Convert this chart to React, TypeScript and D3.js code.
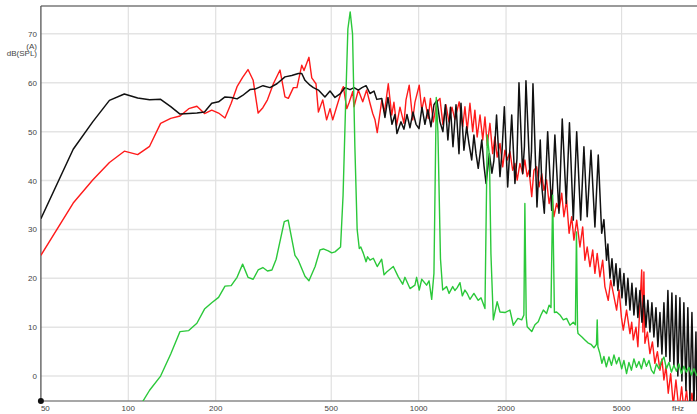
import React from "react";
import * as d3 from "d3";

// Third-octave-free FFT magnitude curves, [frequency Hz, level dB(SPL)(A)]
const blackCurve: [number, number][] = [
  [50, 32.2], [64.6, 46.4], [75.4, 52.0], [86.1, 56.4], [96.9, 57.7], [107.7, 56.9], [118.4, 56.5], [129.2, 56.6],
  [140, 55.1], [150.7, 53.6], [161.5, 53.7], [172.3, 53.8], [183, 54.0], [193.8, 55.8], [204.6, 56.1], [215.3, 57.1],
  [226.1, 57.0], [236.9, 56.7], [247.6, 57.4], [262.5, 58.6], [273, 58.7], [291, 59.4], [307.6, 59.0], [325, 59.8],
  [346.4, 61.2], [365.5, 61.5], [385, 61.9], [395.8, 61.9], [406, 60.5], [422.5, 59.5], [434, 59.0], [451.6, 58.5],
  [475.6, 57.1], [495.2, 58.3], [515, 57.0], [536, 57.7], [557.4, 59.0], [580.3, 58.6], [598.9, 59.0], [619.8, 58.5],
  [638, 59.0], [659, 59.4], [679.9, 57.8], [701.7, 58.3], [717.3, 56.6], [746.4, 56.8], [765.5, 52.9], [784, 57.0],
  [809.5, 51.5], [828.6, 53.5], [842, 49.6], [869.3, 52.0], [890, 50.5], [911.6, 53.5], [933.7, 50.8], [956, 54.0],
  [979.4, 51.5], [1002.8, 50.6], [1026.8, 55.0], [1051, 51.5], [1076, 54.5], [1102.8, 51.0], [1129, 55.5], [1156, 56.4],
  [1184, 52.0], [1212, 50.0], [1236, 55.5], [1261, 48.3], [1287, 55.0], [1313, 46.9], [1345, 55.5], [1377, 45.5],
  [1399, 55.8], [1432, 46.2], [1463, 51.0], [1491, 47.5], [1523, 44.2], [1550, 49.3], [1576, 45.5], [1604, 42.5],
  [1650, 48.3], [1679, 43.0], [1707, 39.4], [1752, 45.5], [1788, 41.5], [1816, 44.0], [1855, 53.4], [1906, 40.8],
  [1937, 46.0], [1973, 55.1], [2026, 38.7], [2055, 45.0], [2092, 53.4], [2146, 39.4], [2181, 44.5], [2216, 60.0],
  [2282, 41.4], [2314, 47.0], [2342, 60.4], [2418, 40.8], [2447, 46.0], [2476, 59.8], [2556, 34.6], [2623, 48.3],
  [2659, 38.5], [2709, 33.3], [2782, 50.0], [2872, 33.9], [2946, 49.3], [3043, 33.3], [3123, 52.6], [3224, 35.3],
  [3307, 51.8], [3409, 31.9], [3502, 50.0], [3615, 31.9], [3709, 46.9], [3806, 32.6], [3922, 46.2], [4047, 30.5],
  [4155, 45.2], [4270, 29.2], [4346, 32], [4438, 23.7], [4485, 27], [4560, 20], [4633, 24], [4706, 18.5],
  [4783, 23], [4856, 17.5], [4935, 22], [5014, 16], [5093, 21], [5177, 14.5], [5256, 20], [5343, 13.5],
  [5428, 19], [5514, 12.5], [5605, 18], [5690, 12], [5783, 17.5], [5876, 11], [5968, 16.5], [6066, 10],
  [6159, 15.5], [6260, 9], [6360, 15], [6460, 8], [6567, 14], [6667, 6], [6778, 13], [6886, 4.5],
  [6995, 15], [7110, 4], [7219, 17.5], [7335, 3], [7452, 17], [7570, 2], [7694, 16.5], [7812, 0],
  [7940, 16], [8067, -1], [8194, 15], [8329, -3], [8456, 14], [8597, -5], [8735, 13], [8872, -6],
  [9018, 9], [9093, -6],
];

const redCurve: [number, number][] = [
  [50, 24.7], [64.6, 35.4], [75.4, 40.1], [86.1, 43.7], [96.9, 46.0], [107.7, 45.3], [118.4, 47.0], [129.2, 51.7],
  [140, 52.7], [150.7, 53.2], [161.5, 54.7], [172.3, 55.2], [183, 53.7], [193.8, 54.4], [204.6, 53.8], [215.3, 52.8],
  [226.1, 55.8], [236.9, 59.2], [247.6, 61.1], [258.4, 62.7], [269.2, 60.5], [280, 53.8], [290.7, 54.9], [301.5, 56.5],
  [316, 59.8], [333.1, 62.6], [346.4, 57.1], [355.8, 56.8], [370.3, 59.0], [381, 59.0], [395.8, 63.6], [402.8, 62.5],
  [419, 65.2], [428.4, 61.0], [443, 59.8], [451.6, 54.0], [467.4, 56.5], [482, 52.4], [495.2, 54.7], [506, 52.4],
  [522, 55.1], [543.5, 58.5], [550.5, 59.2], [565.5, 54.7], [576.7, 56.0], [593, 58.2], [598.9, 55.1], [619.8, 58.5],
  [641.9, 56.1], [662, 58.5], [679.9, 55.8], [694.8, 53.7], [707, 52.5], [720, 49.8], [746.4, 56.4], [762.6, 54.0],
  [786, 59.8], [807.8, 53.4], [822, 56.0], [839.7, 51.3], [862.4, 55.0], [890, 51.7], [904.6, 56.5], [928, 59.5],
  [954.2, 52.4], [971, 56.0], [1004.7, 59.5], [1024.7, 54.4], [1047, 57.0], [1079, 52.7], [1098, 56.8], [1123.5, 52.0],
  [1154, 56.0], [1184, 56.8], [1212, 51.5], [1242, 55.5], [1271.6, 52.0], [1302.5, 55.0], [1333, 52.5], [1379, 56.1],
  [1418.5, 51.0], [1443.5, 55.1], [1470, 50.3], [1502, 55.8], [1535, 50.0], [1562, 54.4], [1590.6, 48.9], [1627, 53.4],
  [1662.8, 48.3], [1692, 53.0], [1723, 47.2], [1760, 51.7], [1798.7, 45.5], [1830, 48.9], [1864, 44.8], [1906, 47.6],
  [1948, 42.8], [1982, 46.2], [2018.5, 44.2], [2063, 45.9], [2108, 42.1], [2146, 43.5], [2185, 40.1], [2233, 43.5],
  [2282, 41.4], [2322, 44.2], [2365, 40.8], [2400, 42.1], [2452, 36.7], [2495, 42.1], [2549, 42.8], [2600, 38.7],
  [2654, 41.4], [2701, 38.0], [2758, 40.1], [2814, 35.3], [2872, 38.0], [2924, 32.6], [2986, 35.3], [3045, 33.9],
  [3110, 37.4], [3165, 32.6], [3233, 36.0], [3297, 29.2], [3366, 32.6], [3426, 27.8], [3502, 31.9], [3594, 26.4],
  [3673, 30.5], [3738, 23.7], [3806, 26.4], [3891, 22.4], [3977, 25.8], [4047, 21.0], [4121, 25.1], [4211, 20.3],
  [4304, 23.7], [4380, 18.3], [4497, 15.5], [4587, 19.6], [4683, 16.9], [4806, 13.5], [4902, 17.6], [4994, 12],
  [5068, 9.4], [5201, 13.5], [5343, 8.7], [5418, 11], [5487, 7.4], [5605, 10], [5690, 6], [5864, 21.7],
  [5922, 9], [5968, 21.3], [6014, 6.7], [6136, 9], [6260, 4.6], [6385, 7], [6510, 2.6], [6642, 5],
  [6778, 1.2], [6886, 3.5], [6995, -0.8], [7110, 2], [7239, -3.5], [7379, 0.5], [7533, -6], [7694, -0.8],
  [7878, -7], [8051, -2.2], [8194, -7], [8369, -2.9], [8527, -8], [8735, -3.5], [8941, -8], [9093, -4],
];

const greenCurve: [number, number][] = [
  [107.7, -6.9], [118.4, -2.9], [129.2, 0.0], [140, 4.5], [150.7, 9.1], [161.5, 9.3], [172.3, 10.8], [183, 13.7],
  [193.8, 15.0], [204.6, 16.1], [215.3, 18.4], [226.1, 18.5], [236.9, 20.2], [247.6, 22.9], [258.4, 20.2], [269.2, 19.8],
  [280, 21.7], [290.7, 22.2], [301.5, 21.5], [312.3, 21.7], [323, 23.9], [344.5, 31.6], [355.3, 31.9], [375, 24.7],
  [385, 23.7], [406, 20.4], [419, 19.5], [440, 22.4], [457.3, 25.8], [469.6, 26.0], [488.4, 25.6], [502, 25.2],
  [515, 25.4], [538.3, 26.4], [549.2, 37], [560, 55], [570.5, 71], [581, 74.5], [592, 70], [603, 47],
  [614, 30], [624.5, 26.1], [632, 26.4], [645, 25.1], [659, 23.4], [667, 24.4], [680, 23.7], [698, 24.1],
  [720, 22.4], [746, 23.9], [760, 20.7], [776, 21.3], [818, 22.4], [851, 20.3], [881, 18.8], [897, 20.2],
  [933.7, 17.9], [971, 18.6], [984, 20.2], [1004.7, 17.6], [1024.7, 19.8], [1065, 18.6], [1086, 19.5], [1109, 15.7],
  [1129, 21], [1150, 57], [1165, 50], [1189, 24], [1210, 17.6], [1248, 18.3], [1273, 16.9], [1310, 18.3],
  [1333, 17.5], [1358, 18.1], [1388, 19.1], [1414, 16.4], [1443.5, 17.6], [1473, 16.8], [1502, 15.7], [1550, 16.9],
  [1604, 15.5], [1640, 16], [1692, 13.8], [1723, 49.3], [1753, 45], [1774, 25], [1808, 11.5], [1864, 15.2],
  [1906, 13.1], [1982, 13.0], [2063, 13.5], [2119, 10.4], [2197, 11.8], [2264, 11.5], [2304, 12.5], [2322, 35.3],
  [2347, 12], [2365, 10.1], [2452, 9.1], [2515, 10.5], [2582, 11.1], [2638, 12.5], [2688, 13.5], [2758, 12.8],
  [2814, 14.5], [2856, 14], [2895, 37.0], [2935, 13], [2986, 13.1], [3067, 12.5], [3150, 11.5], [3233, 11.8],
  [3320, 10.4], [3409, 11], [3466, 10.5], [3496, 29.5], [3526, 9.5], [3540, 8.7], [3651, 8], [3738, 7.4],
  [3828, 6.8], [3922, 6.5], [4016, 5.8], [4097, 6.5], [4121, 11.5], [4144, 6], [4211, 4.6], [4278, 2.6],
  [4346, 4.0], [4430, 1.9], [4523, 3.9], [4615, 2.2], [4706, 4.3], [4802, 2.5], [4897, 3.8], [5004, 1.5],
  [5093, 3.2], [5201, 0.5], [5300, 2.8], [5407, 1.2], [5514, 3.5], [5626, 1.8], [5738, 3.0], [5852, 1.5],
  [5968, 3.6], [6089, 2.0], [6211, 3.2], [6335, 1.2], [6460, 0.5], [6592, 2.5], [6723, 1.5], [6859, 3.0],
  [6995, 3.9], [7137, 1.5], [7280, 2.8], [7423, 0.8], [7570, 2.2], [7724, 1.0], [7878, 2.5], [8035, 0.5],
  [8194, 2.0], [8361, 0.8], [8527, 1.8], [8700, 0.2], [8872, 1.5], [9093, 0.0],
];

const yTicks = [0, 10, 20, 30, 40, 50, 60, 70];
const xGridTicks = [100, 200, 500, 1000, 2000, 5000];
const xLabelTicks = [50, 100, 200, 500, 1000, 2000, 5000];
const yUnitLines = ["(A)", "dB(SPL)"];
const xUnit = "fHz";

const W = 697;
const H = 414;
const plot = { left: 40.9, right: 697, top: 6, bottom: 401 };

export default function App() {
  const x = d3.scaleLog().domain([50, 9093]).range([plot.left, plot.right]);
  const y = d3.scaleLinear().domain([-5.1, 75.7]).range([plot.bottom, plot.top]);
  const line = d3
    .line<[number, number]>()
    .x((d) => x(d[0]))
    .y((d) => y(d[1]));

  const font = "'Liberation Sans', Arial, sans-serif";

  return (
    <svg
      width={W}
      height={H}
      style={{ position: "absolute", left: 0, top: 0, background: "#fff" }}
      fontFamily={font}
    >
      <defs>
        <clipPath id="plotClip">
          <rect x={plot.left} y={plot.top} width={plot.right - plot.left} height={plot.bottom - plot.top} />
        </clipPath>
      </defs>
      <rect x={0} y={0} width={W} height={H} fill="#fff" />

      {/* grid */}
      {yTicks.map((t) => (
        <line key={"gy" + t} x1={plot.left} x2={plot.right} y1={y(t)} y2={y(t)} stroke="#e4e4e4" strokeWidth={1.5} />
      ))}
      {xGridTicks.map((t) => (
        <line key={"gx" + t} x1={x(t)} x2={x(t)} y1={plot.top} y2={plot.bottom} stroke="#e0e0e0" strokeWidth={1.2} />
      ))}

      {/* frame */}
      <line x1={plot.left} x2={plot.right} y1={plot.top} y2={plot.top} stroke="#9a9a9a" strokeWidth={2} />
      <line x1={plot.left} x2={plot.left} y1={plot.top} y2={plot.bottom} stroke="#555" strokeWidth={1.3} />
      <line x1={plot.left} x2={plot.right} y1={plot.bottom} y2={plot.bottom} stroke="#8a8a8a" strokeWidth={1.5} />

      {/* curves */}
      <g clipPath="url(#plotClip)" fill="none" strokeLinejoin="round">
        <path d={line(redCurve) ?? ""} stroke="#ff1a1a" strokeWidth={1.4} />
        <path d={line(blackCurve) ?? ""} stroke="#111" strokeWidth={1.5} />
        <path d={line(greenCurve) ?? ""} stroke="#2bc83a" strokeWidth={1.4} />
      </g>

      <circle cx={plot.left} cy={plot.bottom} r={3} fill="#111" />

      {/* y tick labels */}
      {yTicks.map((t) => (
        <text key={"ly" + t} x={37} y={y(t) + 3} textAnchor="end" fontSize={8} fill="#444">
          {t}
        </text>
      ))}
      <text x={37} y={48.5} textAnchor="end" fontSize={8} fill="#444">
        {yUnitLines[0]}
      </text>
      <text x={37} y={56} textAnchor="end" fontSize={8} fill="#444">
        {yUnitLines[1]}
      </text>

      {/* x tick labels */}
      {xLabelTicks.map((t) => (
        <text
          key={"lx" + t}
          x={t === 50 ? x(t) : x(t)}
          y={410.5}
          textAnchor={t === 50 ? "start" : "middle"}
          fontSize={8}
          fill="#444"
        >
          {t}
        </text>
      ))}
      <text x={678} y={410.5} textAnchor="middle" fontSize={8} fill="#444">
        {xUnit}
      </text>
    </svg>
  );
}
